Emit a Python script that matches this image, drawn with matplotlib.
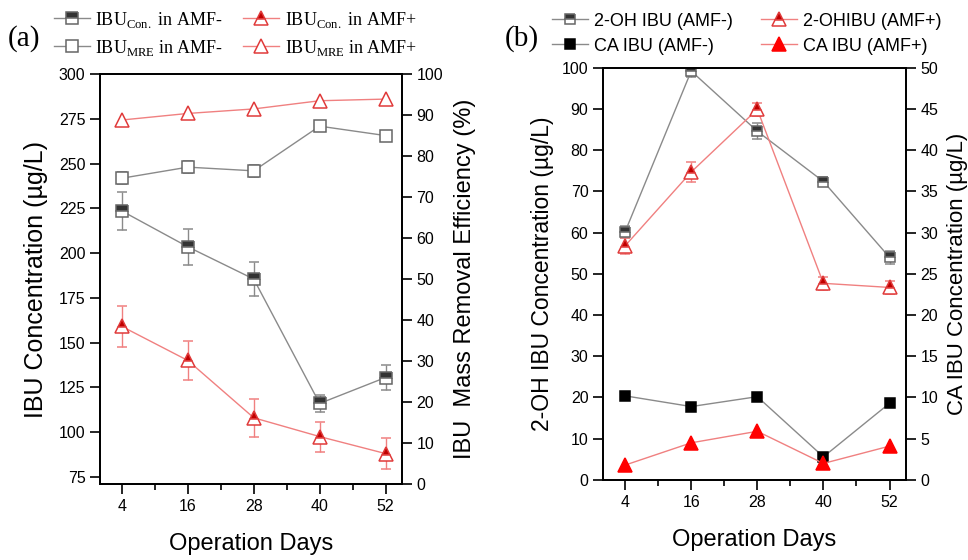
import numpy as np
import matplotlib
matplotlib.use('Agg')
import matplotlib.pyplot as plt
from matplotlib.lines import Line2D

plt.rcParams['font.family'] = ['Liberation Sans', 'DejaVu Sans']
plt.rcParams['axes.linewidth'] = 1.3

days = [4, 16, 28, 40, 52]
day_ticks = [4, 16, 28, 40, 52]
day_minor = [10, 22, 34, 46]

# (a) IBU concentration (ug/L) and mass removal efficiency (%)
con_minus = [223.5, 203.5, 185.5, 116, 130.5]
con_minus_err = [10.4, 10, 9.3, 5, 6.9]
con_plus = [159, 140, 108, 97.5, 88]
con_plus_err = [11.3, 10.8, 10.5, 8.4, 8.7]
mre_minus = [74.6, 77.3, 76.4, 87.3, 85.0]
mre_minus_err = [1.5, 1.5, 1.5, 1.0, 1.0]
mre_plus = [88.8, 90.4, 91.5, 93.5, 93.9]

# (b) metabolites (ug/L)
oh_minus = [60.2, 99.2, 84.6, 72.4, 54.0]
oh_minus_err = [1.5, 1.5, 2.0, 1.2, 1.5]
oh_plus = [56.8, 74.7, 89.9, 47.7, 46.7]
oh_plus_err = [2.0, 2.5, 1.5, 1.5, 1.5]
ca_minus = [10.2, 8.9, 10.1, 2.8, 9.3]
ca_plus = [1.8, 4.5, 5.9, 2.0, 4.1]

GRAY = '#8a8a8a'
GRAY_EDGE = '#666666'
DARK = '#333333'
RED = '#f08080'
RED_EDGE = '#e03a3a'
RED_FILL = '#c00000'


def mstyle(marker, ms, line, edge, face, fill):
    return dict(color=line, lw=1, marker=marker, ms=ms, mec=edge, mfc=face,
                markerfacecoloralt='white', fillstyle=fill, mew=1.1)


def series(ax, y, err, marker, ms, line, edge, face, fill='top', label=None):
    st = mstyle(marker, ms, line, edge, face, fill)
    ax.errorbar(days, y, yerr=err, ecolor=line, elinewidth=1, capsize=3.5,
                capthick=1, **st)
    # plain handle for the legend, without error bars
    return Line2D([], [], label=label, **st)


def style(ax, ax2):
    for a in (ax, ax2):
        a.tick_params(axis='both', which='major', direction='out', length=7, width=1.2,
                      labelsize=11.5)
        a.tick_params(axis='x', which='minor', direction='out', length=4, width=1.2)
    ax.set_xlim(0, 55)
    ax.set_xticks(day_ticks)
    ax.set_xticks(day_minor, minor=True)
    ax.set_xlabel('Operation Days', fontsize=17, labelpad=14)


fig = plt.figure(figsize=(9.68, 5.6), dpi=100)

# ---- (a)
ax = fig.add_axes([0.1033, 0.1357, 0.312, 0.732])
ax2 = ax.twinx()
h1 = series(ax, con_minus, con_minus_err, 's', 8, GRAY, GRAY_EDGE, DARK,
            label='IBU$_{\\mathregular{Con.}}$ in AMF-')
h3 = series(ax, con_plus, con_plus_err, '^', 10.5, RED, RED_EDGE, RED_FILL,
            label='IBU$_{\\mathregular{Con.}}$ in AMF+')
h2 = series(ax2, mre_minus, mre_minus_err, 's', 8, GRAY, GRAY_EDGE, 'white', fill='full',
            label='IBU$_{\\mathregular{MRE}}$ in AMF-')
h4 = series(ax2, mre_plus, None, '^', 10.5, RED, RED_EDGE, 'white', fill='full',
            label='IBU$_{\\mathregular{MRE}}$ in AMF+')
ax.set_ylim(71, 300)
ax.set_yticks(np.arange(75, 301, 25))
ax2.set_ylim(0, 100)
ax2.set_yticks(np.arange(0, 101, 10))
style(ax, ax2)
ax.set_ylabel('IBU Concentration (µg/L)', fontsize=18, labelpad=8)
ax2.set_ylabel('IBU  Mass Removal Efficiency (%)', fontsize=17, labelpad=8)
fig.legend(handles=[h1, h2, h3, h4], ncol=2, loc='center left',
           bbox_to_anchor=(0.046, 0.94), frameon=False, borderpad=0,
           handlelength=2.0, handletextpad=0.3, columnspacing=1.1, labelspacing=0.45,
           prop={'family': 'Liberation Serif', 'size': 13})
fig.text(0.008, 0.932, '(a)', family='Liberation Serif', fontsize=21, va='center')

# ---- (b)
bx = fig.add_axes([0.623, 0.143, 0.313, 0.736])
bx2 = bx.twinx()
g1 = series(bx, oh_minus, oh_minus_err, 's', 7.5, GRAY, GRAY_EDGE, DARK,
            label='2-OH IBU (AMF-)')
g2 = series(bx, oh_plus, oh_plus_err, '^', 9.5, RED, RED_EDGE, RED_FILL,
            label='2-OHIBU (AMF+)')
g3 = series(bx2, ca_minus, None, 's', 7.5, GRAY, 'black', 'black', fill='full',
            label='CA IBU (AMF-)')
g4 = series(bx2, ca_plus, None, '^', 9.5, RED, '#ff0000', '#ff0000', fill='full',
            label='CA IBU (AMF+)')
bx.set_ylim(0, 100)
bx.set_yticks(np.arange(0, 101, 10))
bx2.set_ylim(0, 50)
bx2.set_yticks(np.arange(0, 51, 5))
style(bx, bx2)
bx.set_ylabel('2-OH IBU Concentration (µg/L)', fontsize=16.5, labelpad=6)
bx2.set_ylabel('CA IBU Concentration (µg/L)', fontsize=16, labelpad=6)
fig.legend(handles=[g1, g3, g2, g4], ncol=2, loc='center left',
           bbox_to_anchor=(0.561, 0.94), frameon=False, borderpad=0,
           handlelength=2.0, handletextpad=0.3, columnspacing=1.6, labelspacing=0.45,
           prop={'family': 'Liberation Sans', 'size': 13})
fig.text(0.521, 0.932, '(b)', family='Liberation Serif', fontsize=21, va='center')

fig.savefig('out.png', dpi=100)
